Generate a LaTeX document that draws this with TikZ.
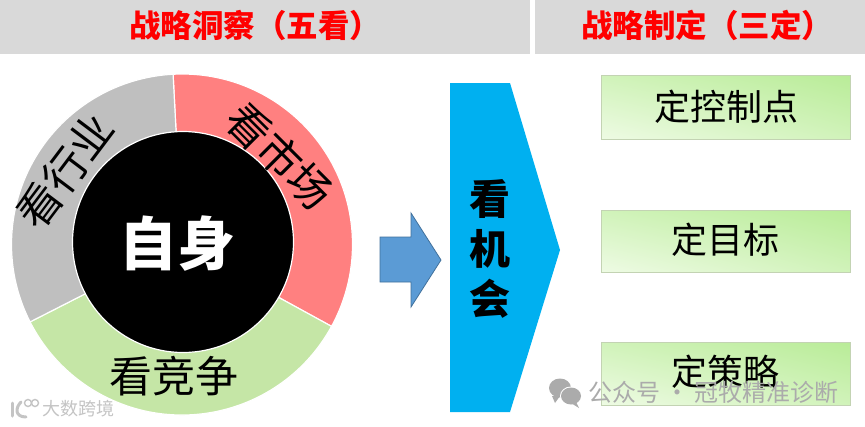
\documentclass[tikz,border=0pt]{standalone}
\usepackage{fontspec}
\setmainfont{Noto Sans CJK SC}
\usetikzlibrary{shadings}
\definecolor{hdr}{HTML}{D9D9D9}
\definecolor{hdrred}{HTML}{FF0000}
\definecolor{ringgray}{HTML}{BFBFBF}
\definecolor{ringred}{HTML}{FF8080}
\definecolor{ringgreen}{HTML}{C5E6A6}
\definecolor{pent}{HTML}{00B0F0}
\definecolor{arrowfill}{HTML}{5B9BD5}
\definecolor{arrowline}{HTML}{41719C}
\definecolor{boxline}{HTML}{C3D3B3}
\definecolor{boxhi}{HTML}{B9EC98}
\definecolor{boxlo}{HTML}{EEFBE4}
\definecolor{wm}{HTML}{ABABAB}
\tikzset{
  x=1pt,y=-1pt,
  hdrbar/.style={fill=hdr,draw=none,anchor=north west,inner sep=0pt,minimum height=54pt},
  hdrtext/.style={text=hdrred,font=\fontsize{31.5}{34}\selectfont\bfseries,inner sep=0pt},
  wedgeline/.style={draw=white,line width=1.2pt},
  ringtext/.style={font=\fontsize{43}{46}\selectfont,inner sep=0pt,text=black},
  stratbox/.style={draw=boxline,line width=1pt,lower left=boxlo,lower right=boxhi!55!boxlo,upper left=boxhi!55!boxlo,upper right=boxhi,minimum width=249pt,anchor=north west,inner sep=0pt},
  boxtext/.style={font=\fontsize{36}{39}\selectfont,inner sep=0pt,text=black},
  wmtext/.style={text=wm,inner sep=0pt,anchor=west}
}
\begin{document}
\begin{tikzpicture}
\useasboundingbox (0,0) rectangle (865,426);
\fill[white] (0,0) rectangle (865,426);
% header
\node[hdrbar,minimum width=530pt] (barL) at (0,0) {};
\node[hdrbar,minimum width=330pt] (barR) at (535,0) {};
\node[hdrtext] (titleL) at (255,25) {战略洞察（五看）};
\node[hdrtext] (titleR) at (707,25) {战略制定（三定）};
% ring
\coordinate (c) at (182,244.5);
\path[fill=ringred,wedgeline] (c) -- ++(93:170.5pt) arc[start angle=93,end angle=-28.7,radius=170.5pt] -- cycle;
\path[fill=ringgreen,wedgeline] (c) -- ++(-28.7:170.5pt) arc[start angle=-28.7,end angle=-153,radius=170.5pt] -- cycle;
\path[fill=ringgray,wedgeline] (c) -- ++(207:170.5pt) arc[start angle=207,end angle=93,radius=170.5pt] -- cycle;
\node[circle,fill=black,draw=white,line width=1.2pt,minimum size=221pt,inner sep=0pt] (self) at (183,242) {};
\node[font=\fontsize{58}{61}\selectfont\bfseries,text=white,inner sep=0pt] (selfT) at (177.5,244) {自身};
\node[ringtext,rotate=53] (hy) at (65,171) {看行业};
\node[ringtext,rotate=-45] (sc) at (280,156) {看市场};
\node[ringtext] (jz) at (173.5,376) {看竞争};
% arrow
\filldraw[fill=arrowfill,draw=arrowline,line width=0.8pt] (380,237) -- (411,237) -- (411,213) -- (441,260) -- (411,307) -- (411,282) -- (380,282) -- cycle;
% pentagon
\fill[pent] (450,83) -- (510,83) -- (560,250) -- (510,412) -- (450,412) -- cycle;
\node[font=\fontsize{41}{50}\selectfont\bfseries,text=black,align=center,inner sep=0pt] (kjh) at (490,248.5) {看\\机\\会};
% boxes
\node[stratbox,minimum height=64pt] (b1) at (601,75) {};
\node[stratbox,minimum height=62pt] (b2) at (601,210) {};
\node[stratbox,minimum height=63pt] (b3) at (601,342) {};
\node[boxtext] (t1) at (726,107) {定控制点};
\node[boxtext] (t2) at (725.5,240) {定目标};
\node[boxtext] (t3) at (725.5,372) {定策略};
% watermarks
\fill[wm] (560,388) ellipse[x radius=11pt,y radius=9.5pt];
\fill[wm] (552,396) -- (555,403) -- (560,396) -- cycle;
\fill[white] (571,396) ellipse[x radius=11pt,y radius=9.5pt];
\fill[wm] (571,396) ellipse[x radius=10pt,y radius=8.5pt];
\fill[wm] (576,402) -- (579,408) -- (571,403) -- cycle;
\node[wmtext,font=\fontsize{24}{26}\selectfont] (wm1) at (588,392) {公众号 · 冠牧精准诊断};
\draw[wm!70,line width=3pt,line cap=round] (12,403) -- (12,416);
\draw[wm!70,line width=3pt,line cap=round] (21,402) .. controls (15,408) and (15,417) .. (26,417);
\draw[wm!70,line width=1.4pt] (28,403) circle[radius=3.5pt];
\draw[wm!70,line width=1.4pt] (35,403) circle[radius=3.5pt];
\node[wmtext,font=\fontsize{18}{20}\selectfont,text=wm!70] (wm2) at (42,409) {大数跨境};
\end{tikzpicture}
\end{document}
